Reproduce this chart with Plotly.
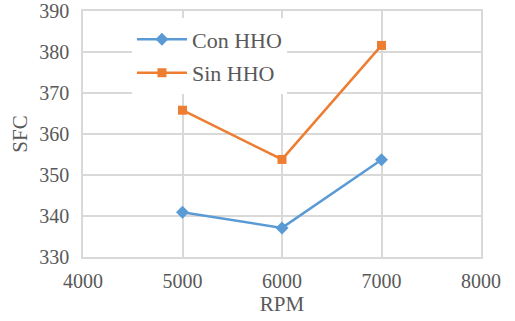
import plotly.graph_objects as go

rpm = [5000, 6000, 7000]
con_hho = [340.9, 337.1, 353.7]
sin_hho = [365.8, 353.8, 381.6]
x_ticks = [4000, 5000, 6000, 7000, 8000]
y_ticks = [330, 340, 350, 360, 370, 380, 390]

font = "Liberation Serif, Times New Roman, serif"
grey = "#595959"
grid = "#d9d9d9"

fig = go.Figure()
fig.add_trace(go.Scatter(x=rpm, y=con_hho, name="Con HHO", mode="lines+markers",
                         legendgroup="a",
                         line=dict(color="#5B9BD5", width=2.5),
                         marker=dict(symbol="diamond", size=10, color="#5B9BD5")))
fig.add_trace(go.Scatter(x=rpm, y=sin_hho, name="Sin HHO", mode="lines+markers",
                         legendgroup="b",
                         line=dict(color="#ED7D31", width=2.5),
                         marker=dict(symbol="square", size=9, color="#ED7D31")))

fig.update_layout(
    width=515, height=321,
    margin=dict(l=83, r=34, t=11, b=64),
    paper_bgcolor="white", plot_bgcolor="white",
    font=dict(family=font, size=20, color=grey),
    legend=dict(x=0.123, y=0.97, xanchor="left", yanchor="top",
                bgcolor="white", font=dict(size=22, color=grey),
                itemwidth=50, tracegroupgap=2, traceorder="grouped"),
    xaxis=dict(range=[4000, 8000], tickvals=x_ticks, showgrid=True, gridcolor=grid,
               gridwidth=1.5, showline=True, linecolor=grid, linewidth=1.5, mirror=True,
               zeroline=False, ticks="", automargin=False, ticklabelstandoff=5,
               ticklabeloverflow="allow",
               title=dict(text="RPM", standoff=2, font=dict(size=21, color=grey)),
               tickfont=dict(size=20, color=grey)),
    yaxis=dict(range=[330, 390], tickvals=y_ticks, showgrid=True, gridcolor=grid,
               gridwidth=1.5, showline=True, linecolor=grid, linewidth=1.5, mirror=True,
               zeroline=False, ticks="", automargin=False, ticklabelstandoff=8,
               ticklabeloverflow="allow",
               title=dict(text="SFC", standoff=6, font=dict(size=21, color=grey)),
               tickfont=dict(size=20, color=grey)),
)
fig.write_html("out.html", config={"displayModeBar": False},
               post_script="document.body.style.margin='0';")
